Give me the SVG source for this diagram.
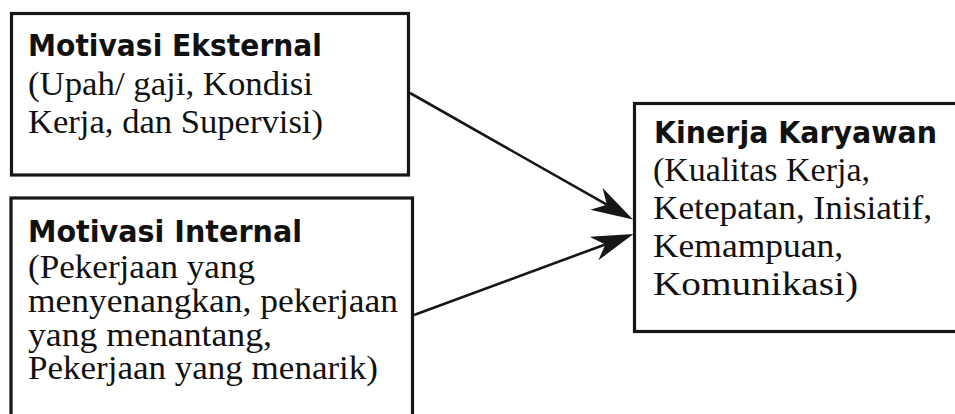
<svg xmlns="http://www.w3.org/2000/svg" width="955" height="414" viewBox="0 0 955 414">
<style>
.box{fill:#fff;stroke:#161616;stroke-width:3.2}
.t{font-family:"DejaVu Sans","Liberation Sans",sans-serif;font-weight:bold;font-size:30px;fill:#111}
.s{font-family:"Liberation Serif","DejaVu Serif",serif;font-size:33px;fill:#111}
.c{stroke:#161616;stroke-width:2.6;fill:none;marker-end:url(#ah)}
</style>
<defs>
<marker id="ah" markerUnits="userSpaceOnUse" markerWidth="42" markerHeight="25" refX="17" refY="12.5" orient="auto">
<path d="M42,12.5 L0,0 L12,12.5 L0,25 Z" fill="#161616"/>
</marker>
</defs>
<rect width="955" height="414" fill="#fff"/>
<g id="connectors">
<line class="c" x1="410" y1="93" x2="611.2" y2="207.2"/>
<line class="c" x1="414" y1="315" x2="610" y2="242.7"/>
</g>
<g id="motivasi-eksternal">
<rect class="box" x="11.5" y="13.5" width="397" height="161.5"/>
<text class="t" x="28" y="55.5" textLength="294" lengthAdjust="spacingAndGlyphs">Motivasi Eksternal</text>
<text class="s" x="28" y="95" textLength="285" lengthAdjust="spacingAndGlyphs">(Upah/ gaji, Kondisi</text>
<text class="s" x="28" y="132.5" textLength="295" lengthAdjust="spacingAndGlyphs">Kerja, dan Supervisi)</text>
</g>
<g id="motivasi-internal">
<rect class="box" x="11" y="198" width="401.5" height="240"/>
<text class="t" x="28" y="242" textLength="274" lengthAdjust="spacingAndGlyphs">Motivasi Internal</text>
<text class="s" x="28" y="278" textLength="227" lengthAdjust="spacingAndGlyphs">(Pekerjaan yang</text>
<text class="s" x="28" y="312" textLength="370" lengthAdjust="spacingAndGlyphs">menyenangkan, pekerjaan</text>
<text class="s" x="28" y="345.5" textLength="244" lengthAdjust="spacingAndGlyphs">yang menantang,</text>
<text class="s" x="28" y="379" textLength="350" lengthAdjust="spacingAndGlyphs">Pekerjaan yang menarik)</text>
</g>
<g id="kinerja-karyawan">
<rect class="box" x="634.5" y="103.5" width="340" height="228"/>
<text class="t" x="654" y="143" textLength="283" lengthAdjust="spacingAndGlyphs">Kinerja Karyawan</text>
<text class="s" x="653" y="181" textLength="217" lengthAdjust="spacingAndGlyphs">(Kualitas Kerja,</text>
<text class="s" x="653" y="218.5" textLength="279" lengthAdjust="spacingAndGlyphs">Ketepatan, Inisiatif,</text>
<text class="s" x="653" y="257" textLength="190" lengthAdjust="spacingAndGlyphs">Kemampuan,</text>
<text class="s" x="653" y="295" textLength="205" lengthAdjust="spacingAndGlyphs">Komunikasi)</text>
</g>
</svg>
